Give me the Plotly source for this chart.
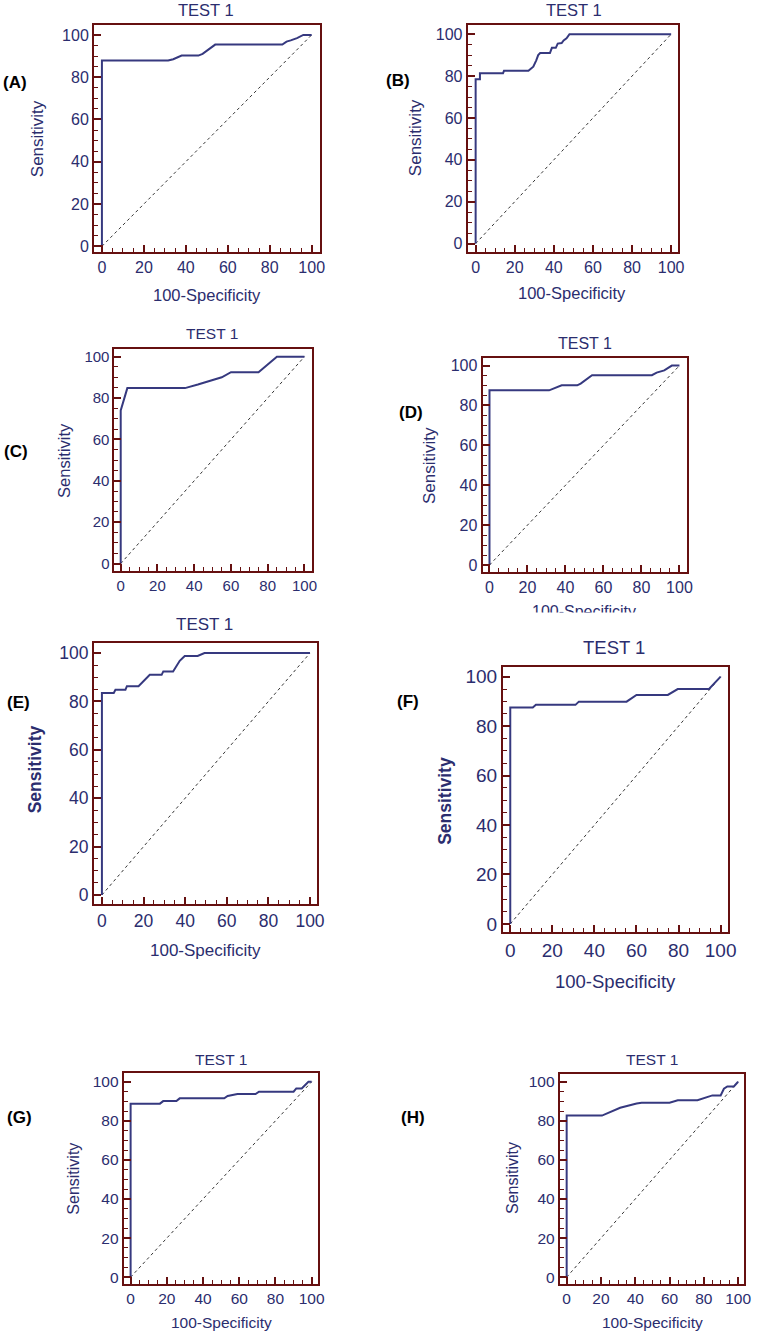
import plotly.graph_objects as go

W, H = 759, 1334

# ---------------- data ----------------
A_fpr = [0, 0, 31.6, 34, 38, 46, 48, 54, 86, 88, 90, 93, 96, 100]
A_tpr = [0, 87.9, 87.9, 88.5, 90.2, 90.2, 91, 95.4, 95.4, 96.8, 97.4, 98.5, 100, 100]

B_fpr = [0, 0, 2.2, 2.2, 14, 14.5, 27, 28.5, 29.5, 31, 32, 33, 38, 39, 41, 42, 44, 45, 46.5, 48, 100]
B_tpr = [0, 78.5, 78.5, 81.3, 81.3, 82.5, 82.5, 83.7, 84.5, 87.5, 90, 91, 91, 93.5, 93.5, 95.5, 95.8, 97, 98, 100, 100]

C_fpr = [0, 0, 3.6, 35, 42, 49, 55, 60, 75, 85, 100]
C_tpr = [0, 74, 84.8, 84.8, 86.5, 88.3, 90, 92.5, 92.5, 100, 100]

D_fpr = [0, 0, 31.4, 34, 38, 46.2, 48, 54, 85.5, 88, 92, 96, 100]
D_tpr = [0, 87.6, 87.6, 88.5, 90.1, 90.1, 91, 95.2, 95.2, 96.5, 97.6, 100, 100]

E_fpr = [0, 0, 5.7, 6.5, 11.3, 12, 17.6, 20.8, 23, 28.7, 29.5, 34.2, 37.4, 39.8, 46, 49.3, 100]
E_tpr = [0, 83.5, 83.5, 84.8, 84.8, 86.3, 86.3, 89.3, 91, 91, 92.4, 92.4, 96.8, 98.8, 98.8, 100, 100]

F_fpr = [0, 0, 10.7, 12.2, 31, 32.6, 55.3, 60, 74.9, 79.6, 94.5, 100]
F_tpr = [0, 87.5, 87.5, 88.6, 88.6, 89.9, 89.9, 92.6, 92.6, 95, 95, 100]

G_fpr = [0, 0, 16.2, 18, 25.3, 27.1, 51.7, 53.6, 59, 69, 70.9, 90, 91.5, 94.5, 98.2, 100]
G_tpr = [0, 88.8, 88.8, 90.1, 90.1, 91.5, 91.5, 92.7, 93.7, 93.7, 94.9, 94.9, 96.6, 96.6, 100, 100]

H_fpr = [0, 0, 20.6, 31.2, 40.8, 43.7, 60, 64.8, 76.3, 85, 89.8, 91.7, 93.7, 97.5, 100]
H_tpr = [0, 82.7, 82.7, 86.7, 88.9, 89.3, 89.3, 90.5, 90.5, 93, 93, 96.4, 97.6, 97.6, 100]

diag_x = [0, 100]
diag_y = [0, 100]

tick_vals = [0, 20, 40, 60, 80, 100]
panel_letters = ["(A)", "(B)", "(C)", "(D)", "(E)", "(F)", "(G)", "(H)"]
panel_title = "TEST 1"
x_title = "100-Specificity"
y_title = "Sensitivity"

curves = [(A_fpr, A_tpr), (B_fpr, B_tpr), (C_fpr, C_tpr), (D_fpr, D_tpr),
          (E_fpr, E_tpr), (F_fpr, F_tpr), (G_fpr, G_tpr), (H_fpr, H_tpr)]

# ---------------- layout geometry (pixels) ----------------
geom = [
    dict(frame=(95, 323, 24, 252), x0=103, x100=315, y100=34, y0=246,
         title=(208, 9.5), xt=(209, 295), yt=(38, 138), let=(15, 82),
         fs=16, tfs=16.5, yfs=17, ybold=False),
    dict(frame=(472.7, 685, 24, 252), x0=480.7, x100=678.3, y100=33.3, y0=243.3,
         title=(580, 9.5), xt=(578, 293), yt=(420, 137), let=(402, 80),
         fs=16, tfs=16.5, yfs=17, ybold=False),
    dict(frame=(115.7, 315, 349, 571.7), x0=122, x100=307.7, y100=356.7, y0=564.3,
         title=(214, 333), xt=None, yt=(64, 461), let=(16, 452),
         fs=15, tfs=15.5, yfs=16.5, ybold=False),
    dict(frame=(487.7, 694, 357.7, 572.7), x0=494.7, x100=686.7, y100=365.7, y0=565.7,
         title=(591, 344), xt=(590, 612), yt=(434, 466), let=(415, 413),
         fs=16, tfs=16, yfs=17, ybold=False),
    dict(frame=(95, 320.7, 644.3, 905.7), x0=103, x100=313.3, y100=654, y0=896.7,
         title=(207, 625), xt=(208, 952), yt=(35, 771), let=(19, 704),
         fs=17.5, tfs=17, yfs=17.5, ybold=True),
    dict(frame=(508.3, 736, 667.7, 934.3), x0=515.7, x100=728.3, y100=677.7, y0=925.7,
         title=(621, 648), xt=(622, 983), yt=(449, 802), let=(412, 703),
         fs=19, tfs=18.5, yfs=17.5, ybold=True),
    dict(frame=(125, 321.7, 1075.7, 1286.7), x0=132, x100=315, y100=1084, y0=1280,
         title=(223, 1062), xt=(224, 1325), yt=(74, 1181), let=(20, 1120),
         fs=15.5, tfs=15.5, yfs=16, ybold=False),
    dict(frame=(565.7, 751.7, 1076, 1286.7), x0=572.7, x100=746, y100=1084, y0=1280,
         title=(659, 1062), xt=(659, 1325), yt=(518, 1181), let=(417, 1120),
         fs=15.5, tfs=15.5, yfs=16, ybold=False),
]

FONT = "Liberation Sans"
FRAME = "#661010"
TEXT = "#2b2d6e"
CURVE = "#36397f"

fig = go.Figure()
layout = dict(width=W, height=H, margin=dict(l=0, r=0, t=0, b=0),
              paper_bgcolor="white", plot_bgcolor="white", showlegend=False)
annotations = []


def px(x):
    return x / W


def py(y):
    return 1 - y / H


for i, (g, (fx, fy)) in enumerate(zip(geom, curves)):
    n = i + 1
    xa = "x" if n == 1 else f"x{n}"
    ya = "y" if n == 1 else f"y{n}"
    fl, fr, ft, fb = g["frame"]
    sx = (g["x100"] - g["x0"]) / 100.0
    sy = (g["y0"] - g["y100"]) / 100.0
    xr = [-(g["x0"] - fl) / sx, 100 + (fr - g["x100"]) / sx]
    yr = [-(fb - g["y0"]) / sy, 100 + (g["y100"] - ft) / sy]

    fig.add_trace(go.Scatter(x=diag_x, y=diag_y, mode="lines", xaxis=xa, yaxis=ya,
                             line=dict(color="black", width=0.8, dash="3px,3px"),
                             hoverinfo="skip"))
    fig.add_trace(go.Scatter(x=fx, y=fy, mode="lines", xaxis=xa, yaxis=ya,
                             line=dict(color=CURVE, width=2), hoverinfo="skip"))

    tf = dict(family=FONT, size=g["fs"], color=TEXT)
    common = dict(showline=True, linecolor=FRAME, linewidth=2, mirror=True,
                  ticks="inside", ticklen=7, tickwidth=2, tickcolor=FRAME,
                  tickmode="array", tickvals=tick_vals,
                  showgrid=False, zeroline=False, tickfont=tf, fixedrange=True,
                  minor=dict(ticks="inside", ticklen=4, tickwidth=1, tickcolor=FRAME,
                             dtick=5, tick0=0, showgrid=False))
    layout["xaxis" if n == 1 else f"xaxis{n}"] = dict(
        domain=[px(fl), px(fr)], range=xr, anchor=ya, **common)
    layout["yaxis" if n == 1 else f"yaxis{n}"] = dict(
        domain=[py(fb), py(ft)], range=yr, anchor=xa, **common)

    annotations.append(dict(text=panel_title, x=px(g["title"][0]), y=py(g["title"][1]),
                            xref="paper", yref="paper", showarrow=False,
                            xanchor="center", yanchor="middle",
                            font=dict(family=FONT, size=g["tfs"], color=TEXT)))
    if g["xt"] is not None:
        annotations.append(dict(text=x_title, x=px(g["xt"][0]), y=py(g["xt"][1]),
                                xref="paper", yref="paper", showarrow=False,
                                xanchor="center", yanchor="middle",
                                font=dict(family=FONT, size=g["tfs"], color=TEXT)))
    ytxt = f"<b>{y_title}</b>" if g["ybold"] else y_title
    annotations.append(dict(text=ytxt, x=px(g["yt"][0]), y=py(g["yt"][1]),
                            xref="paper", yref="paper", showarrow=False, textangle=-90,
                            xanchor="center", yanchor="middle",
                            font=dict(family=FONT, size=g["yfs"], color=TEXT)))
    annotations.append(dict(text=f"<b>{panel_letters[i]}</b>", x=px(g["let"][0]),
                            y=py(g["let"][1]), xref="paper", yref="paper",
                            showarrow=False, xanchor="center", yanchor="middle",
                            font=dict(family=FONT, size=17, color="black")))

# the reference crops the lower part of panel D's x-axis title
annotations.append(dict(text="&nbsp;", x=px(590), y=py(622), xref="paper", yref="paper",
                        showarrow=False, xanchor="center", yanchor="middle",
                        width=160, height=14, bgcolor="white"))

layout["annotations"] = annotations
fig.update_layout(**layout)
fig.write_html("out.html", config={"displayModeBar": False},
               post_script="document.body.style.margin='0';")
